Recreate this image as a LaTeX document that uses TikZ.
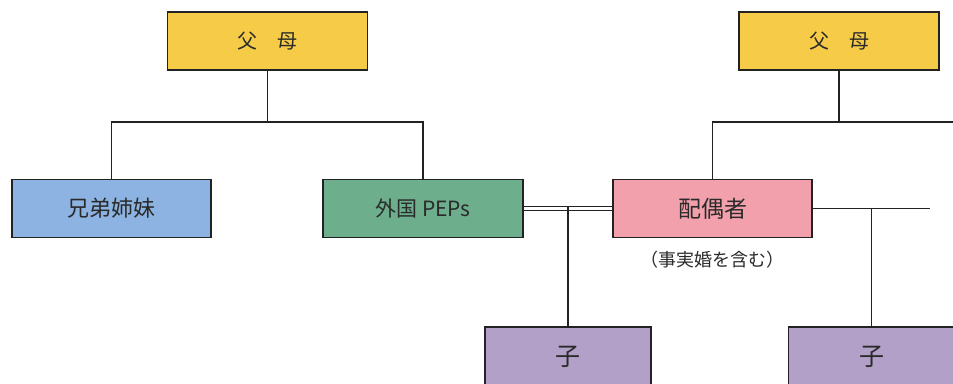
\documentclass[tikz,border=0pt]{standalone}
\usepackage{fontspec}
\setmainfont{Noto Sans CJK JP}
\usetikzlibrary{calc}
\definecolor{cyellow}{HTML}{F6CB47}
\definecolor{cblue}{HTML}{8DB3E2}
\definecolor{cgreen}{HTML}{6DAE8D}
\definecolor{cpink}{HTML}{F1A0AC}
\definecolor{cpurple}{HTML}{B3A0C8}
\definecolor{ctext}{HTML}{2A2A2A}
\definecolor{cline}{HTML}{222222}
\tikzset{
  famiybox/.style={draw=cline, line width=1.7pt, rectangle, inner sep=0pt, text=ctext, minimum height=58pt},
  parentbox/.style={famiybox, fill=cyellow, minimum width=200pt, font=\fontsize{20}{24}\selectfont},
  sibbox/.style={famiybox, fill=cblue, minimum width=199pt, font=\fontsize{22}{26}\selectfont},
  pepbox/.style={famiybox, fill=cgreen, minimum width=200pt, font=\fontsize{21}{25}\selectfont},
  spousebox/.style={famiybox, fill=cpink, minimum width=199pt, font=\fontsize{23}{27}\selectfont},
  childbox/.style={famiybox, fill=cpurple, minimum width=166pt, minimum height=60pt, font=\fontsize{25}{29}\selectfont},
  link/.style={draw=cline, line width=1.6pt},
  thinlink/.style={draw=cline, line width=1.2pt},
}
\begin{document}
\begin{tikzpicture}[x=1pt,y=-1pt]
\clip (0,0) rectangle (953,383);
\fill[white] (0,0) rectangle (953,383);

\node[parentbox] (p1) at (267.5,41) {父　母};
\node[parentbox] (p2) at (839,41) {父　母};
\node[sibbox] (sib) at (111.5,208.5) {兄弟姉妹};
\node[pepbox] (pep) at (423,208.5) {外国 PEPs};
\node[spousebox] (sp) at (712.5,208.5) {配偶者};
\node[childbox] (c1) at (568,357) {子};
\node[childbox] (c2) at (871.5,357) {子};
\node[text=ctext, font=\fontsize{18}{21}\selectfont] (note) at (712,260) {（事実婚を含む）};

\coordinate (j1) at (267.5,122);
\coordinate (j2) at (839,122);
\coordinate (r2) at (953,122);
\coordinate (spend) at (930,208.5);

\draw[link] (p1.south) -- (j1);
\draw[link] (sib.north) |- (pep.north |- j1) -- (pep.north);
\draw[link] (p2.south) -- (j2);
\draw[link] (sp.north) |- (r2);

\draw[thinlink] ([yshift=-2pt]pep.east) -- ([yshift=-2pt]sp.west);
\draw[thinlink] ([yshift=2pt]pep.east) -- ([yshift=2pt]sp.west);
\draw[link] (c1.north) -- ($(c1.north |- pep.east)+(0,2pt)$);

\draw[link] (sp.east) -- (spend);
\draw[link] (c2.north) -- (c2.north |- sp.east);
\end{tikzpicture}
\end{document}
